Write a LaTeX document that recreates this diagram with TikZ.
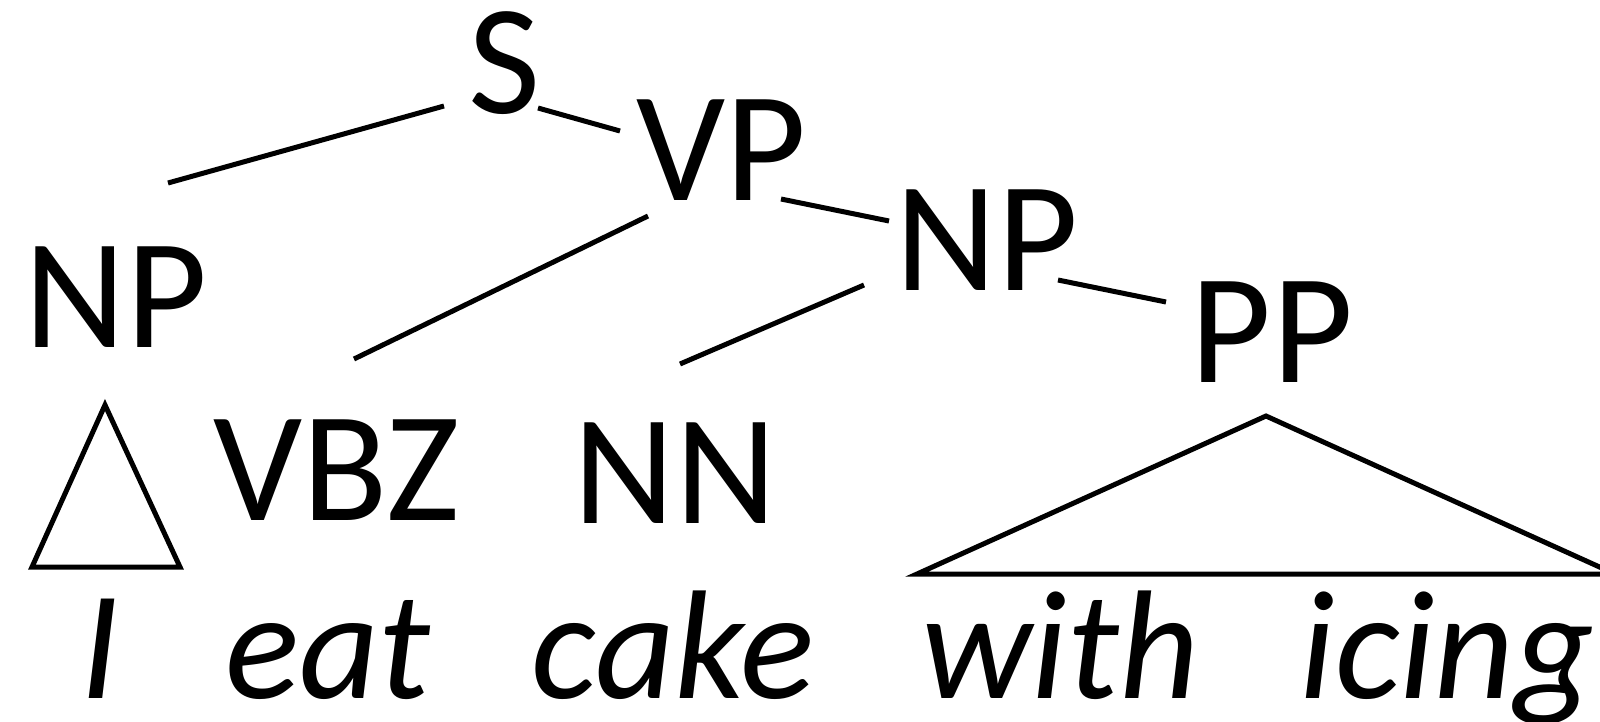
\documentclass[tikz,border=0pt]{standalone}
\usepackage{fontspec}
\setmainfont{Carlito}
\begin{document}
\begin{tikzpicture}[x=1pt,y=-1pt,
  lab/.style={anchor=base,inner sep=0pt,font=\fontsize{157}{160}\selectfont},
  word/.style={anchor=base,inner sep=0pt,font=\fontsize{155}{160}\selectfont\itshape},
  edge/.style={line width=5pt},
  tri/.style={line width=5pt,line join=miter}]
\useasboundingbox (0,0) rectangle (1600,721);
% category labels
\node[lab] (S)   at (505,113) {S};
\node[lab] (VP)  at (722,200) {VP};
\node[lab] (NPr) at (987,290) {NP};
\node[lab] (PP)  at (1272,382) {PP};
\node[lab] (NPl) at (116,347) {NP};
\node[lab] (VBZ) at (337,520) {VBZ};
\node[lab] (NN)  at (675,523) {NN};
% words
\node[word] (w1) at (100,698) {I};
\node[word] (w2) at (328,698) {eat};
\node[word] (w3) at (673,698) {cake};
\node[word] (w4) at (1060,698) {with};
\node[word] (w5) at (1447,698) {icing};
% connector ends
\coordinate (sL) at (444,106);  \coordinate (npT) at (168,183);
\coordinate (sR) at (538,108);  \coordinate (vpL) at (620,131);
\coordinate (vpB) at (648,216); \coordinate (vbzT) at (354,359);
\coordinate (vpR) at (781,199); \coordinate (nprL) at (889,221);
\coordinate (nprB) at (864,285);\coordinate (nnT) at (680,364);
\coordinate (nprR) at (1058,280);\coordinate (ppL) at (1166,302);
\draw[edge] (sL) -- (npT);
\draw[edge] (sR) -- (vpL);
\draw[edge] (vpB) -- (vbzT);
\draw[edge] (vpR) -- (nprL);
\draw[edge] (nprB) -- (nnT);
\draw[edge] (nprR) -- (ppL);
% triangles
\coordinate (t1a) at (105,405); \coordinate (t1l) at (32,567); \coordinate (t1r) at (180,567);
\draw[tri] (t1a) -- (t1l) -- (t1r) -- cycle;
\coordinate (t2a) at (1266,416); \coordinate (t2l) at (917,574); \coordinate (t2r) at (1615,574);
\draw[tri] (t2a) -- (t2l) -- (t2r) -- cycle;
\end{tikzpicture}
\end{document}
